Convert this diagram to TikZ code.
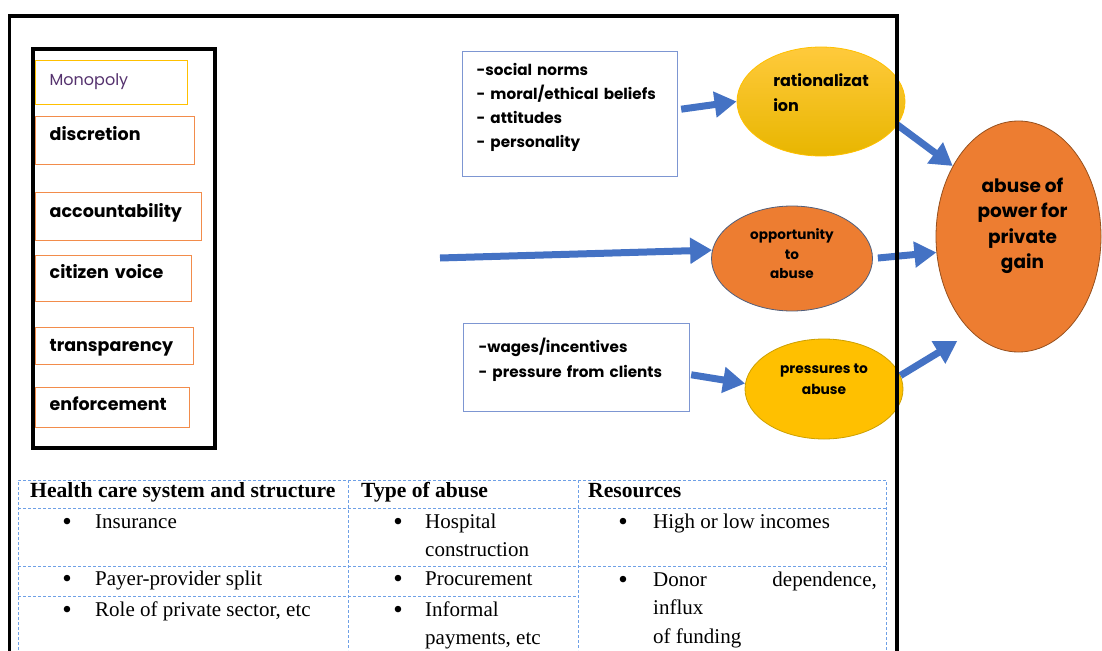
\documentclass[tikz,border=0pt]{standalone}
\usepackage{fontspec}
\setmainfont{Liberation Serif}
\newfontfamily\geofont{Poppins}
\usetikzlibrary{shapes.geometric,arrows.meta}
\definecolor{flowblue}{RGB}{68,114,196}
\definecolor{listblue}{RGB}{125,150,210}
\definecolor{gridblue}{RGB}{110,160,230}
\definecolor{gold}{RGB}{255,192,0}
\definecolor{goldtop}{RGB}{255,202,60}
\definecolor{goldbottom}{RGB}{232,182,0}
\definecolor{goldline}{RGB}{205,160,0}
\definecolor{orangefill}{RGB}{237,125,49}
\definecolor{orangeline}{RGB}{242,140,75}
\definecolor{brownline}{RGB}{150,80,30}
\definecolor{slateline}{RGB}{80,95,125}
\definecolor{monopurple}{RGB}{85,50,110}
\begin{document}
\begin{tikzpicture}
  [x=1pt,y=-1pt,
   factor/.style n args={3}{rectangle,draw=orangeline,line width=1.4pt,anchor=north west,
                  inner xsep=14pt,inner ysep=0,text width=#1,text height=#2,text depth=#3,
                  align=left,font=\geofont\bfseries\fontsize{17.5}{20}\selectfont},
   cause/.style n args={3}{rectangle,draw=listblue,line width=1.2pt,anchor=north west,
                  inner xsep=14pt,inner ysep=0,text width=#1,text height=#2,text depth=#3,
                  align=left,font=\geofont\bfseries\fontsize{15.2}{24}\selectfont},
   driver/.style={ellipse,inner sep=0,line width=0.8pt},
   says/.style={align=center,inner sep=0,font=\geofont\bfseries\fontsize{13.6}{19.5}\selectfont},
   flow/.style={draw=flowblue,line width=7pt,-{Triangle[length=22pt,width=25pt]}},
   grid/.style={draw=gridblue,line width=0.9pt,dash pattern=on 3pt off 2pt},
   cell/.style={anchor=base west,inner sep=0,font=\fontsize{21}{28}\selectfont},
   head/.style={cell,font=\bfseries\fontsize{21.6}{28}\selectfont},
   dot/.style={anchor=base,inner sep=0,font=\fontsize{27}{28}\selectfont}]
  \useasboundingbox (0,0) rectangle (1102,650);
  % left column of factors
  \node[factor={124pt}{25pt}{19pt},draw=gold,font=\geofont\fontsize{16}{19}\selectfont,
        text=monopurple] (monopoly) at (35,60) {Monopoly};
  \node[factor={131pt}{24pt}{24pt}] (discretion) at (35,116) {discretion};
  \node[factor={138pt}{25pt}{23pt}] (account) at (35,192) {accountability};
  \node[factor={128pt}{23pt}{23pt}] (voice) at (35,255) {citizen voice};
  \node[factor={130pt}{24pt}{13pt}] (transp) at (35,327) {transparency};
  \node[factor={126pt}{23pt}{17pt}] (enforce) at (35,387) {enforcement};
  \draw[line width=4pt] (32.8,48.7) rectangle (215.3,447.7);
  % causes
  \node[cause={187pt}{24pt}{101pt}] (social) at (462,51)
       {-social norms\\- moral/ethical beliefs\\- attitudes\\- personality};
  \node[cause={196pt}{29pt}{59pt},inner xsep=15pt,font=\geofont\bfseries\fontsize{15.2}{25}\selectfont]
       (wages) at (463,323) {-wages/incentives\\- pressure from clients};
  \node[driver,minimum width=168pt,minimum height=109pt,draw=gold,top color=goldtop,
        bottom color=goldbottom,
        label={[says,align=left,yshift=8.5pt,font=\geofont\bfseries\fontsize{16}{25}\selectfont]center:rationalizat\\ion}]
       (rat) at (821,101.5) {};
  \node[driver,minimum width=161pt,minimum height=105pt,draw=slateline,fill=orangefill,
        label={[says,yshift=4.5pt]center:opportunity\\to\\abuse}]
       (opp) at (792,258.5) {};
  \node[driver,minimum width=158pt,minimum height=100pt,draw=goldline,fill=gold,
        label={[says,yshift=10pt,font=\geofont\bfseries\fontsize{13.8}{21}\selectfont]center:pressures to\\abuse}]
       (press) at (824,389) {};
  \node[driver,minimum width=165pt,minimum height=231pt,draw=brownline,fill=orangefill,
        label={[says,yshift=10.5pt,xshift=4pt,font=\geofont\bfseries\fontsize{18.5}{25.5}\selectfont]center:abuse of\\power for\\private\\gain}]
       (abuse) at (1018.5,236.5) {};
  \coordinate (feed) at (440,258);
  \draw[flow,shorten <=3pt] ([yshift=4.5pt]social.east) -- (rat.west);
  \draw[flow] (feed) -- (opp.174);
  \draw[flow,shorten <=1pt] ([yshift=-7pt]wages.east) -- (press.176);
  \draw[flow] (rat.-17) -- (abuse.133);
  \draw[flow,shorten <=5pt] (opp.east) -- (abuse.191);
  \draw[flow,shorten >=17pt] (press.10) -- (abuse.244);
  % table
  \draw[grid] (18,650) -- (18,480) -- (886,480) -- (886,650);
  \draw[grid] (18,508) -- (886,508);
  \draw[grid] (18,566) -- (886,566);
  \draw[grid] (18,596) -- (578,596);
  \draw[grid] (348,480) -- (348,650);
  \draw[grid] (578,480) -- (578,650);
  \node[head] (hsystem) at (30,497) {Health care system and structure};
  \node[head] (htype) at (361,497) {Type of abuse};
  \node[head] (hres) at (588,497) {Resources};
  \node[dot] (b1) at (67,530) {\textbullet};
  \node[cell] (insurance) at (95,528) {Insurance};
  \node[dot] (b2) at (67,587) {\textbullet};
  \node[cell] (split) at (95,585) {Payer-provider split};
  \node[dot] (b3) at (67,618) {\textbullet};
  \node[cell] (private) at (95,616) {Role of private sector, etc};
  \node[dot] (b4) at (398,530) {\textbullet};
  \node[cell] (hospital) at (425,528) {Hospital};
  \node[cell] (construct) at (425,556) {construction};
  \node[dot] (b5) at (398,587) {\textbullet};
  \node[cell] (procure) at (425,585) {Procurement};
  \node[dot] (b6) at (398,618) {\textbullet};
  \node[cell] (informal) at (425,616) {Informal};
  \node[cell] (payments) at (425,644) {payments, etc};
  \node[dot] (b7) at (623,530) {\textbullet};
  \node[cell] (incomes) at (653,528) {High or low incomes};
  \node[dot] (b8) at (623,588) {\textbullet};
  \node[cell] (donor) at (653,586) {Donor};
  \node[cell,anchor=base east] (depend) at (877,586) {dependence,};
  \node[cell] (influx) at (653,614) {influx};
  \node[cell] (funding) at (653,643) {of funding};
  % outer frame
  \draw[line width=3.8pt] (9.5,655) -- (9.5,15.7) -- (897,15.7) -- (897,655);
\end{tikzpicture}
\end{document}
